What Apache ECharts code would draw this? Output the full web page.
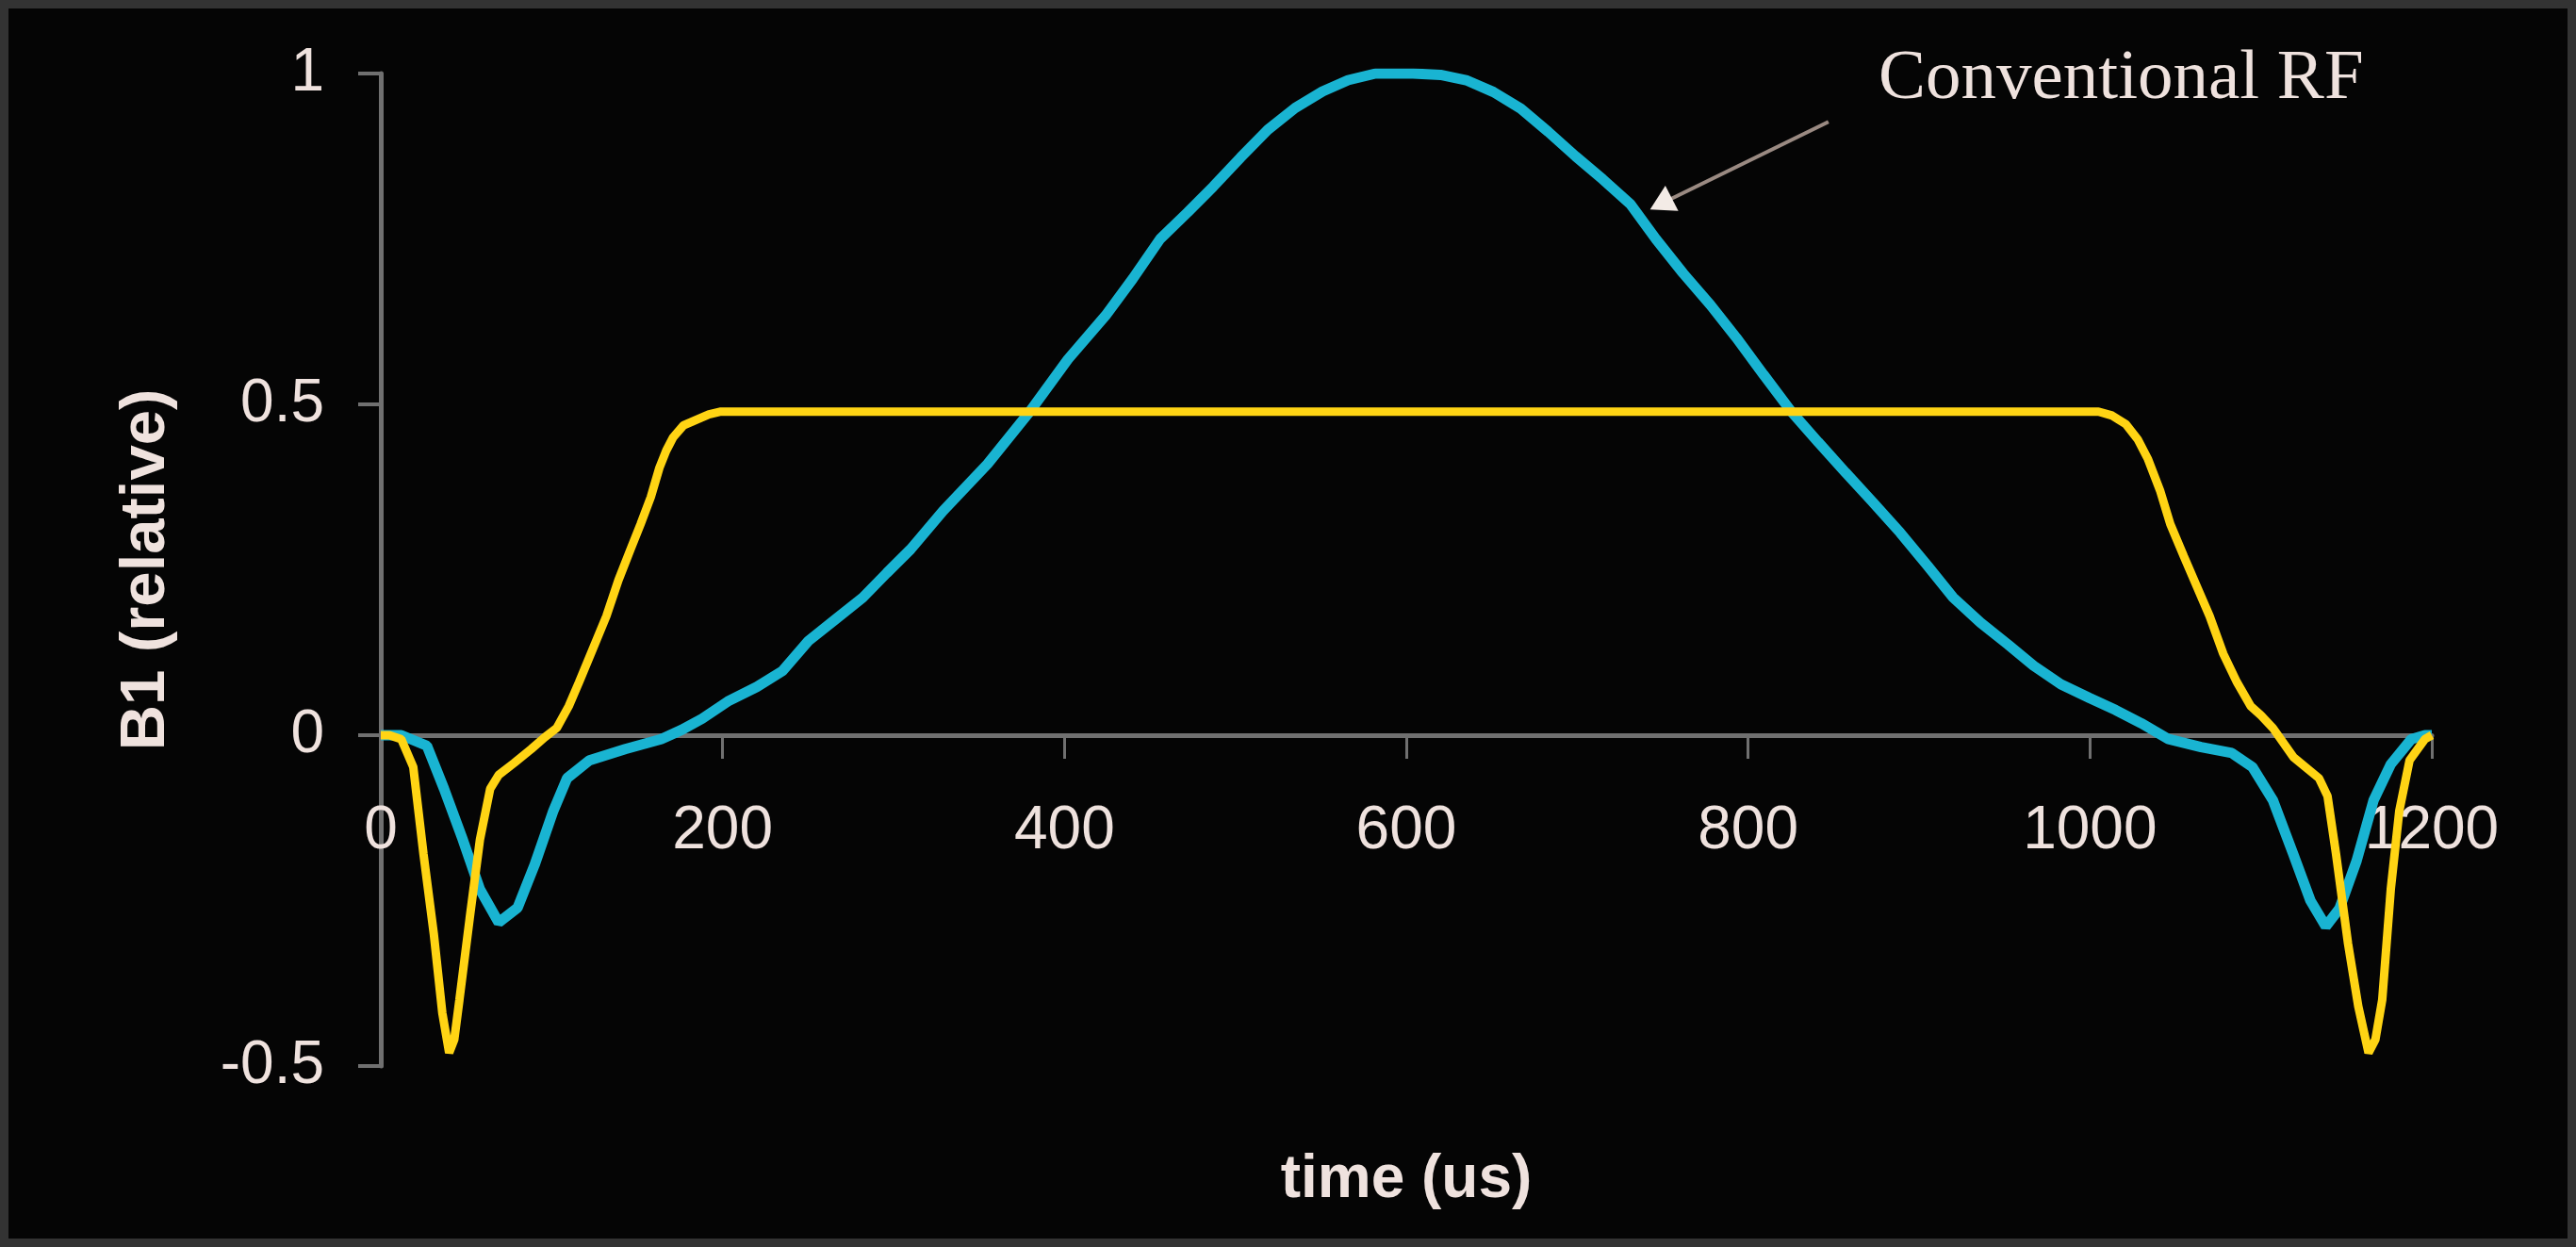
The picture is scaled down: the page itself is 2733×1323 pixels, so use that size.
<!DOCTYPE html>
<html>
<head>
<meta charset="utf-8">
<script src="https://cdn.jsdelivr.net/npm/echarts@6/dist/echarts.min.js"></script>
<style>
html,body{margin:0;padding:0;background:#050505;}
#chart{width:2733px;height:1323px;}
</style>
</head>
<body>
<div id="chart"></div>
<script>
// ---- data ----
const conventionalTime = [0,12,27,37,48,58,69,80,90,101,109,122,143,164,176,188,203,220,235,250,266,282,296,310,329,355,380,402,424,440,456,472,487,503,519,535,551,566,582,604,620,635,651,667,683,699,715,731,746,762,778,793,809,825,841,857,873,889,905,920,936,952,967,983,1000,1015,1030,1046,1065,1083,1095,1107,1119,1129,1138,1146,1156,1166,1176,1188,1196,1200];
const conventionalB1 = [0,0,-0.016,-0.081,-0.158,-0.233,-0.283,-0.261,-0.196,-0.114,-0.065,-0.038,-0.021,-0.006,0.008,0.025,0.051,0.073,0.097,0.142,0.175,0.208,0.245,0.281,0.339,0.41,0.49,0.568,0.634,0.69,0.75,0.79,0.829,0.873,0.915,0.948,0.973,0.99,1.0,1.0,0.998,0.99,0.972,0.947,0.912,0.875,0.84,0.803,0.75,0.698,0.65,0.601,0.545,0.49,0.443,0.397,0.352,0.306,0.256,0.208,0.17,0.137,0.105,0.077,0.056,0.038,0.018,-0.006,-0.018,-0.027,-0.048,-0.098,-0.18,-0.25,-0.289,-0.262,-0.19,-0.098,-0.044,-0.006,0,0];
const newTime = [0,5,12,19,25,31,36,40,43,46,52,58,64,69,78,88,96,103,110,116,124,132,139,146,152,158,163,167,171,177,184,192,199,1005,1013,1021,1028,1034,1041,1047,1055,1062,1070,1078,1086,1094,1100,1107,1119,1134,1139,1144,1151,1157,1163,1167,1171,1176,1181,1187,1196,1200];
const newB1 = [0,0,-0.006,-0.048,-0.18,-0.30,-0.42,-0.48,-0.46,-0.40,-0.277,-0.158,-0.081,-0.06,-0.042,-0.021,-0.003,0.011,0.044,0.08,0.13,0.18,0.234,0.28,0.319,0.36,0.404,0.43,0.45,0.468,0.476,0.485,0.489,0.489,0.483,0.47,0.447,0.417,0.37,0.319,0.27,0.228,0.18,0.123,0.08,0.044,0.03,0.011,-0.033,-0.065,-0.092,-0.18,-0.315,-0.41,-0.48,-0.46,-0.40,-0.233,-0.114,-0.038,-0.006,0];
const xTicks = [0,200,400,600,800,1000,1200];
const yTicks = [-0.5,0,0.5,1];
const xTitle = 'time (us)';
const yTitle = 'B1 (relative)';
const annotationText = 'Conventional RF';
const arrowFrom = [847, 0.927];
const arrowTo = [749, 0.803];

const zip = (a, b) => a.map((v, i) => [v, b[i]]);
const textColor = '#efe2de';
const axisColor = '#707070';

const chart = echarts.init(document.getElementById('chart'));
chart.setOption({
  animation: false,
  backgroundColor: '#050505',
  title: {
    text: annotationText,
    left: 1993, top: 47, padding: 0,
    textStyle: {fontFamily: 'Liberation Serif', fontSize: 75, fontWeight: 'normal', color: textColor}
  },
  graphic: [{
    type: 'rect', silent: true, z: 100,
    shape: {x: 4.5, y: 4.5, width: 2724, height: 1314},
    style: {fill: 'none', stroke: '#333333', lineWidth: 9}
  }],
  grid: {left: 404, right: 153, top: 78, bottom: 192, containLabel: false, outerBoundsMode: 'none'},
  xAxis: {
    type: 'value', min: xTicks[0], max: xTicks[xTicks.length - 1], interval: 200,
    name: xTitle, nameLocation: 'middle', nameGap: 89,
    nameTextStyle: {fontFamily: 'Liberation Sans', fontSize: 64, fontWeight: 'bold', color: textColor},
    axisLine: {onZero: true, lineStyle: {color: axisColor, width: 5}},
    axisTick: {show: true, length: 25, lineStyle: {color: axisColor, width: 3}},
    axisLabel: {margin: -281, fontFamily: 'Liberation Sans', fontSize: 64, color: textColor, formatter: v => String(v)},
    splitLine: {show: false}
  },
  yAxis: {
    type: 'value', min: yTicks[0], max: yTicks[yTicks.length - 1], interval: 0.5,
    name: yTitle, nameLocation: 'middle', nameGap: 215, nameRotate: 90,
    nameTextStyle: {fontFamily: 'Liberation Sans', fontSize: 67, fontWeight: 'bold', color: textColor},
    axisLine: {show: true, lineStyle: {color: axisColor, width: 5}},
    axisTick: {show: true, length: 24, lineStyle: {color: axisColor, width: 4}},
    axisLabel: {margin: 60, fontFamily: 'Liberation Sans', fontSize: 64, color: textColor, formatter: v => String(v)},
    splitLine: {show: false}
  },
  series: [
    {
      name: 'Conventional RF', type: 'line', showSymbol: false, symbol: 'none',
      data: zip(conventionalTime, conventionalB1),
      lineStyle: {color: '#19b4d2', width: 11}, itemStyle: {color: '#19b4d2'},
      markLine: {
        silent: true, animation: false, label: {show: false},
        data: [
          [{coord: arrowFrom, symbol: 'none', lineStyle: {color: '#9a8a82', width: 4, type: 'solid'}},
           {coord: arrowTo, symbol: 'none'}],
          [{coord: [arrowTo[0] + 6, arrowTo[1] + 0.008], symbol: 'none', lineStyle: {color: '#f3ebe6', width: 1, type: 'solid'}},
           {coord: arrowTo, symbol: 'triangle', symbolSize: [30, 26]}]
        ]
      }
    },
    {
      name: 'B1', type: 'line', showSymbol: false, symbol: 'none',
      data: zip(newTime, newB1),
      lineStyle: {color: '#ffd414', width: 9}, itemStyle: {color: '#ffd414'}
    }
  ]
});
</script>
</body>
</html>
